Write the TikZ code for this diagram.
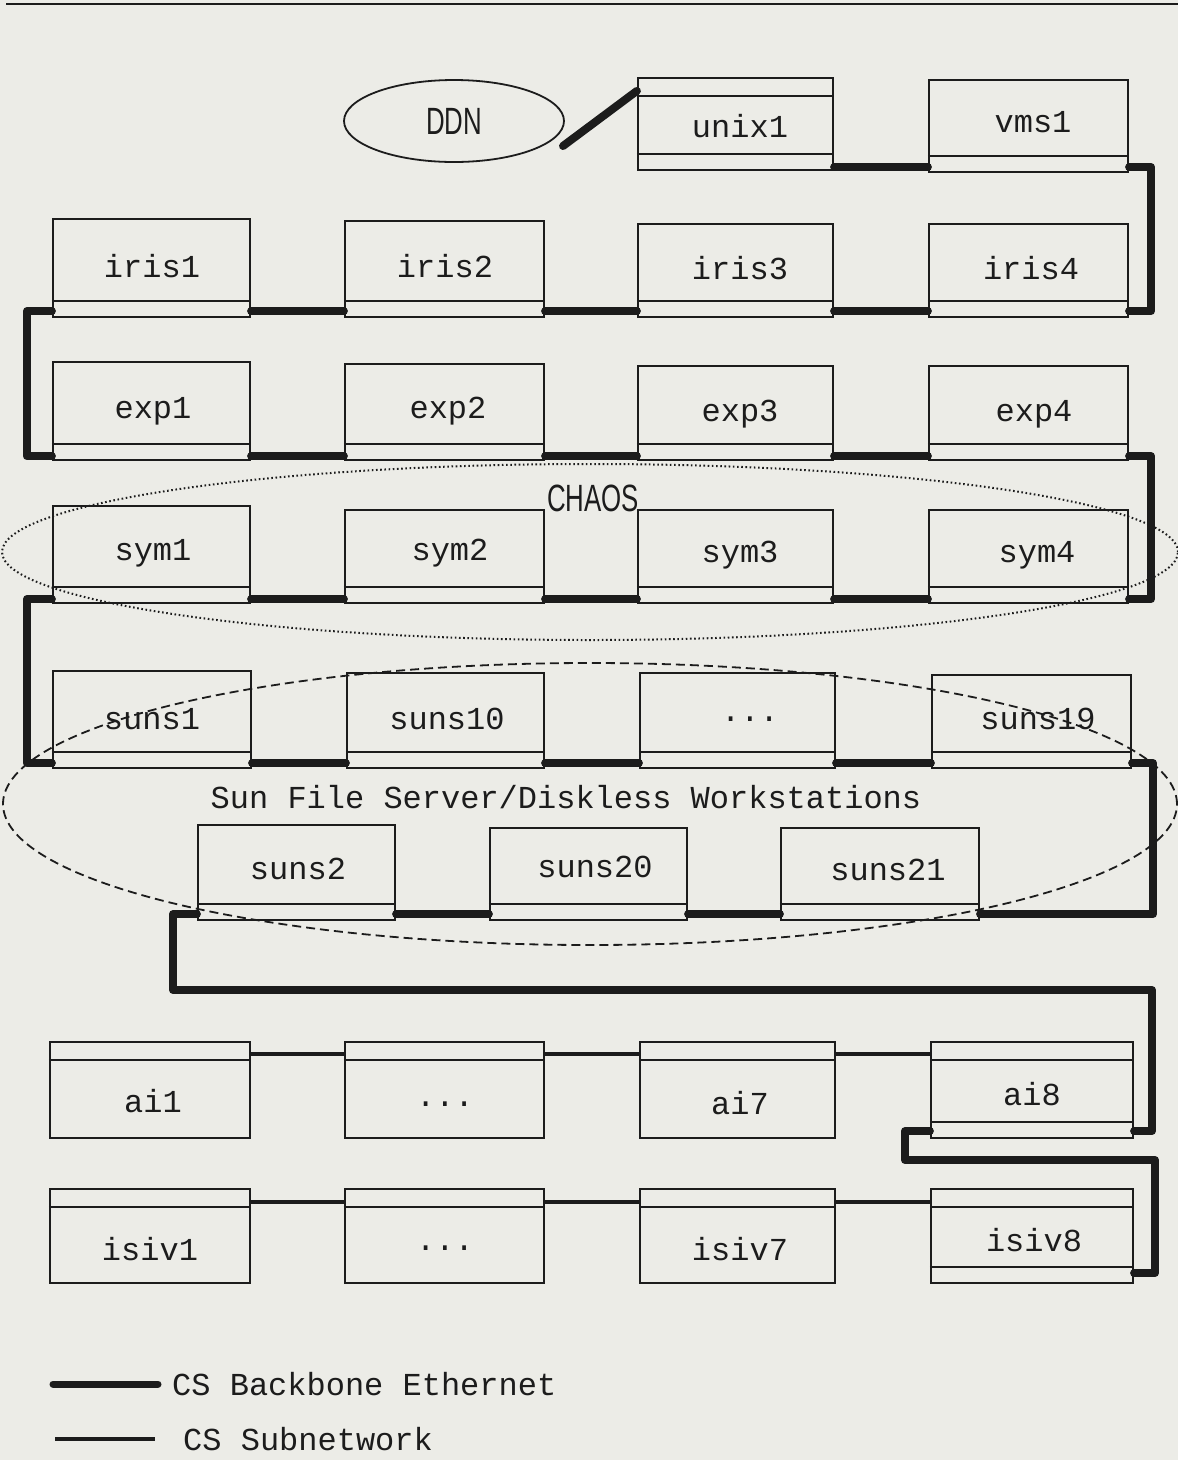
\documentclass[tikz,border=0pt]{standalone}
\usepackage{fontspec}
\setmainfont{Liberation Mono}
\newfontfamily\narrowsans{Liberation Sans}
\usetikzlibrary{shapes.geometric}
\definecolor{ink}{RGB}{28,28,28}
\definecolor{paper}{RGB}{236,236,231}
\newcommand\hostbox[5]{\node[hbox, minimum width={#3-#2}, minimum height={#5-#4}] (#1) at ({(#2+#3)/2},{(#4+#5)/2}) {};}
\newcommand\botstrip[1]{\draw[hline] ([yshift=17pt]#1.south west) -- ([yshift=17pt]#1.south east);}
\newcommand\topstrip[1]{\draw[hline] ([yshift=-19pt]#1.north west) -- ([yshift=-19pt]#1.north east);}
\newcommand\condensed[1]{\scalebox{0.68}[1]{\narrowsans #1}}
\begin{document}
\begin{tikzpicture}[x=1pt,y=-1pt,
  hbox/.style={draw=ink, line width=2.2pt, inner sep=0pt, rectangle},
  hline/.style={draw=ink, line width=2.2pt},
  bb/.style={draw=ink, line width=8pt, line cap=round, line join=round},
  sub/.style={draw=ink, line width=3.2pt},
  lbl/.style={font=\fontsize{32}{35}\selectfont, text=ink, inner sep=0pt},
  grp/.style={ellipse, draw=ink, line width=1.8pt, inner sep=0pt},
]
\fill[paper] (0,0) rectangle (1178,1460);
\useasboundingbox (0,0) rectangle (1178,1460);
\draw[ink, line width=2.5pt] (6,4) -- (1178,4);

% group outlines
\node[grp, line width=2pt, dash pattern=on 1.6pt off 2.6pt, minimum width=1176, minimum height=176] (chaos) at (590,552) {};
\node[lbl, font=\fontsize{38}{40}\selectfont] (chaosl) at (593,498) {\condensed{CHAOS}};
\node[grp, dash pattern=on 9pt off 5pt, minimum width=1174, minimum height=282] (sun) at (590,804) {};
\node[lbl] (sunl) at (566,797) {Sun File Server/Diskless Workstations};

% DDN
\node[grp, minimum width=220, minimum height=82] (ddn) at (454,121) {};
\node[lbl, font=\fontsize{38}{40}\selectfont] (ddnl) at (454,121) {\condensed{DDN}};

% top row
\hostbox{unix1}{638}{833}{78}{170}\topstrip{unix1}\botstrip{unix1}
\node[lbl] (unix1l) at (740,126) {unix1};
\hostbox{vms1}{929}{1128}{80}{172}\botstrip{vms1}
\node[lbl] (vms1l) at (1033,122) {vms1};

% iris row
\hostbox{iris1}{53}{250}{219}{317}\botstrip{iris1}
\hostbox{iris2}{345}{544}{221}{317}\botstrip{iris2}
\hostbox{iris3}{638}{833}{224}{317}\botstrip{iris3}
\hostbox{iris4}{929}{1128}{224}{317}\botstrip{iris4}
\node[lbl] (iris1l) at (152,266) {iris1};
\node[lbl] (iris2l) at (445,266) {iris2};
\node[lbl] (iris3l) at (740,268) {iris3};
\node[lbl] (iris4l) at (1031,268) {iris4};

% exp row
\hostbox{exp1}{53}{250}{362}{460}\botstrip{exp1}
\hostbox{exp2}{345}{544}{364}{460}\botstrip{exp2}
\hostbox{exp3}{638}{833}{366}{460}\botstrip{exp3}
\hostbox{exp4}{929}{1128}{366}{460}\botstrip{exp4}
\node[lbl] (exp1l) at (153,411) {exp1};
\node[lbl] (exp2l) at (448,411) {exp2};
\node[lbl] (exp3l) at (740,414) {exp3};
\node[lbl] (exp4l) at (1034,414) {exp4};

% sym row
\hostbox{sym1}{53}{250}{506}{603}\botstrip{sym1}
\hostbox{sym2}{345}{544}{510}{603}\botstrip{sym2}
\hostbox{sym3}{638}{833}{510}{603}\botstrip{sym3}
\hostbox{sym4}{929}{1128}{510}{603}\botstrip{sym4}
\node[lbl] (sym1l) at (153,553) {sym1};
\node[lbl] (sym2l) at (450,553) {sym2};
\node[lbl] (sym3l) at (740,555) {sym3};
\node[lbl] (sym4l) at (1037,555) {sym4};

% suns row
\hostbox{suns1}{53}{251}{671}{768}\botstrip{suns1}
\hostbox{suns10}{347}{544}{673}{768}\botstrip{suns10}
\hostbox{sunsd}{640}{835}{673}{768}\botstrip{sunsd}
\hostbox{suns19}{932}{1131}{675}{768}\botstrip{suns19}
\node[lbl] (suns1l) at (152,719) {suns1};
\node[lbl] (suns10l) at (447,719) {suns10};
\node[lbl] (sunsdl) at (750,719) {...};
\node[lbl] (suns19l) at (1038,719) {suns19};

% suns2 row
\hostbox{suns2}{198}{395}{825}{920}\botstrip{suns2}
\hostbox{suns20}{490}{687}{828}{920}\botstrip{suns20}
\hostbox{suns21}{781}{979}{828}{920}\botstrip{suns21}
\node[lbl] (suns2l) at (298,869) {suns2};
\node[lbl] (suns20l) at (595,867) {suns20};
\node[lbl] (suns21l) at (888,870) {suns21};

% ai row
\hostbox{ai1}{50}{250}{1042}{1138}\topstrip{ai1}
\hostbox{aid}{345}{544}{1042}{1138}\topstrip{aid}
\hostbox{ai7}{640}{835}{1042}{1138}\topstrip{ai7}
\hostbox{ai8}{931}{1133}{1042}{1138}\topstrip{ai8}\botstrip{ai8}
\node[lbl] (ai1l) at (153,1101) {ai1};
\node[lbl] (aidl) at (445,1104) {...};
\node[lbl] (ai7l) at (740,1103) {ai7};
\node[lbl] (ai8l) at (1032,1094) {ai8};

% isiv row
\hostbox{isiv1}{50}{250}{1189}{1283}\topstrip{isiv1}
\hostbox{isivd}{345}{544}{1189}{1283}\topstrip{isivd}
\hostbox{isiv7}{640}{835}{1189}{1283}\topstrip{isiv7}
\hostbox{isiv8}{931}{1133}{1189}{1283}\topstrip{isiv8}\botstrip{isiv8}
\node[lbl] (isiv1l) at (150,1249) {isiv1};
\node[lbl] (isivdl) at (445,1248) {...};
\node[lbl] (isiv7l) at (740,1249) {isiv7};
\node[lbl] (isiv8l) at (1034,1240) {isiv8};

% backbone
\coordinate (ddnport) at (563,146);
\draw[bb] (ddnport) -- ([yshift=-14pt]unix1.north west);
\draw[bb] ([yshift=4pt]unix1.south east) -- ([yshift=6pt]vms1.south west);
\draw[bb] ([yshift=6pt]vms1.south east) -- ++(22,0) |- ([yshift=7pt]iris4.south east);
\draw[bb] ([yshift=7pt]iris4.south west) -- ([yshift=7pt]iris3.south east);
\draw[bb] ([yshift=7pt]iris3.south west) -- ([yshift=7pt]iris2.south east);
\draw[bb] ([yshift=7pt]iris2.south west) -- ([yshift=7pt]iris1.south east);
\draw[bb] ([yshift=7pt]iris1.south west) -- ++(-25,0) |- ([yshift=5pt]exp1.south west);
\draw[bb] ([yshift=5pt]exp1.south east) -- ([yshift=5pt]exp2.south west);
\draw[bb] ([yshift=5pt]exp2.south east) -- ([yshift=5pt]exp3.south west);
\draw[bb] ([yshift=5pt]exp3.south east) -- ([yshift=5pt]exp4.south west);
\draw[bb] ([yshift=5pt]exp4.south east) -- ++(22,0) |- ([yshift=5pt]sym4.south east);
\draw[bb] ([yshift=5pt]sym4.south west) -- ([yshift=5pt]sym3.south east);
\draw[bb] ([yshift=5pt]sym3.south west) -- ([yshift=5pt]sym2.south east);
\draw[bb] ([yshift=5pt]sym2.south west) -- ([yshift=5pt]sym1.south east);
\draw[bb] ([yshift=5pt]sym1.south west) -- ++(-25,0) |- ([yshift=6pt]suns1.south west);
\draw[bb] ([yshift=6pt]suns1.south east) -- ([yshift=6pt]suns10.south west);
\draw[bb] ([yshift=6pt]suns10.south east) -- ([yshift=6pt]sunsd.south west);
\draw[bb] ([yshift=6pt]sunsd.south east) -- ([yshift=6pt]suns19.south west);
\draw[bb] ([yshift=6pt]suns19.south east) -- ++(21,0) |- ([yshift=7pt]suns21.south east);
\draw[bb] ([yshift=7pt]suns21.south west) -- ([yshift=7pt]suns20.south east);
\draw[bb] ([yshift=7pt]suns20.south west) -- ([yshift=7pt]suns2.south east);
\coordinate (turn1) at (173,990);
\coordinate (turn2) at (1152,990);
\draw[bb] ([yshift=7pt]suns2.south west) -| (turn1) -- (turn2) |- ([yshift=8pt]ai8.south east);
\coordinate (turn3) at (905,1160);
\coordinate (turn4) at (1155,1160);
\draw[bb] ([yshift=8pt]ai8.south west) -| (turn3) -- (turn4) |- ([yshift=11pt]isiv8.south east);

% subnetwork
\draw[sub] ([yshift=-13pt]ai1.north east) -- ([yshift=-13pt]aid.north west);
\draw[sub] ([yshift=-13pt]aid.north east) -- ([yshift=-13pt]ai7.north west);
\draw[sub] ([yshift=-13pt]ai7.north east) -- ([yshift=-13pt]ai8.north west);
\draw[sub] ([yshift=-14pt]isiv1.north east) -- ([yshift=-14pt]isivd.north west);
\draw[sub] ([yshift=-14pt]isivd.north east) -- ([yshift=-14pt]isiv7.north west);
\draw[sub] ([yshift=-14pt]isiv7.north east) -- ([yshift=-14pt]isiv8.north west);

% legend
\coordinate (lg1a) at (53,1384);
\coordinate (lg1b) at (158,1384);
\draw[bb, line width=7pt] (lg1a) -- (lg1b);
\node[lbl, anchor=west] (lg1t) at (172,1384) {CS Backbone Ethernet};
\coordinate (lg2a) at (55,1439);
\coordinate (lg2b) at (155,1439);
\draw[sub] (lg2a) -- (lg2b);
\node[lbl, anchor=west] (lg2t) at (183,1439) {CS Subnetwork};
\end{tikzpicture}
\end{document}
